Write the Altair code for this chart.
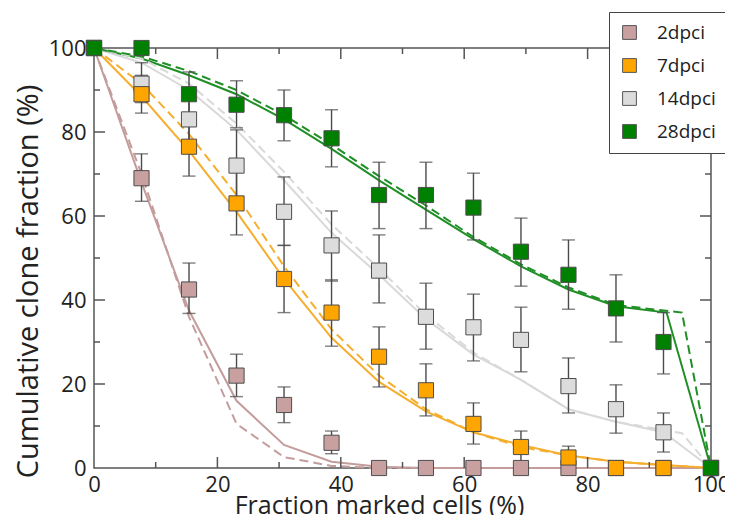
import altair as alt
import pandas as pd

series = ["2dpci", "7dpci", "14dpci", "28dpci"]
marker_colors = ["#C8A0A0", "#FFA500", "#DCDCDC", "#008000"]
line_colors = ["#C49C9C", "#F5AE2E", "#D9D9D9", "#1F8F26"]

x_pos = [0, 7.7, 15.4, 23.1, 30.8, 38.5, 46.2, 53.8, 61.5, 69.2, 76.9, 84.6, 92.3, 100]

pink_y = [100, 69, 42.5, 22, 15, 6, 0, 0, 0, 0, 0, 0, 0, 0]
orange_y = [100, 89, 76.5, 63, 45, 37, 26.5, 18.5, 10.5, 5, 2.5, 0, 0, 0]
gray_y = [100, 91.5, 83, 72, 61, 53, 47, 36, 33.5, 30.5, 19.5, 14, 8.5, 0]
green_y = [100, 100, 89, 86.5, 84, 78.5, 65, 65, 62, 51.5, 46, 38, 30, 0]

N = None
pink_lo = [N, 63.5, 36.8, 17, 10.8, 3.4, N, N, N, N, N, N, N, N]
pink_hi = [N, 74.8, 48.8, 27.1, 19.3, 8.8, N, N, N, N, N, N, N, N]
orange_lo = [N, 84.5, 69.5, 55.5, 37, 29, 19.3, 12.4, 5.7, 1.5, 0, N, N, N]
orange_hi = [N, 93.5, 83.5, 71, 53, 44.8, 33.6, 24.8, 15.5, 8.8, 5.2, N, N, N]
gray_lo = [N, 87, 78, 64, 53, 44.5, 39.3, 28.3, 25.5, 22.9, 13.1, 8.3, 3.8, N]
gray_hi = [N, 96.5, 88.5, 80.5, 69.3, 61.2, 55.5, 44, 41.4, 38.3, 26.2, 19.8, 13.1, N]
green_lo = [N, N, 84, 81, 77.9, 71.7, 57, 57, 54.3, 43.3, 37.8, 30, 22.4, N]
green_hi = [N, N, 94.3, 92.2, 90, 85.3, 72.8, 72.8, 70.2, 59.5, 54.3, 46, 37, N]

# model curves (solid and dashed)
pink_solid_x = [0, 7.7, 15.4, 23.1, 30.8, 38.5, 46.2, 53.8, 100]
pink_solid_y = [100, 68, 37.5, 16, 5.5, 1.5, 0.3, 0, 0]
pink_dash_x = [0, 7.7, 15.4, 23.1, 30.8, 38.5, 46.2, 100]
pink_dash_y = [100, 70, 36, 10.5, 2.6, 0.5, 0, 0]
orange_solid_x = x_pos
orange_solid_y = [100, 88.5, 75.5, 61, 45, 31, 20.5, 13.5, 8.5, 5.5, 3, 1.5, 0.7, 0]
orange_dash_x = x_pos
orange_dash_y = [100, 91.5, 79.5, 65, 48, 33, 22, 14, 8.5, 5, 3, 1.5, 0.7, 0]
gray_solid_x = x_pos
gray_solid_y = [100, 96.5, 90, 80.5, 68.5, 56, 46, 35.5, 27, 21, 14, 11, 8.5, 0]
gray_dash_x = [0, 7.7, 15.4, 23.1, 30.8, 38.5, 46.2, 53.8, 61.5, 69.2, 76.9, 84.6, 95.3, 100]
gray_dash_y = [100, 97.5, 91.5, 82, 70.5, 58, 47.5, 36.5, 27.5, 21, 14, 11, 8.3, 0]
green_solid_x = [0, 7.7, 15.4, 23.1, 30.8, 38.5, 46.2, 53.8, 61.5, 69.2, 76.9, 84.6, 92.8, 100]
green_solid_y = [100, 97.5, 93.5, 89, 83, 76, 68.5, 61.5, 54.5, 48, 42.5, 38.5, 37, 0]
green_dash_x = [0, 7.7, 15.4, 23.1, 30.8, 38.5, 46.2, 53.8, 61.5, 69.2, 76.9, 84.6, 95.3, 100]
green_dash_y = [100, 98, 94.5, 90, 84, 77, 69.5, 62.5, 55, 48.5, 43, 38.8, 37, 0]

major_ticks = [0, 20, 40, 60, 80, 100]
minor_ticks = [10, 30, 50, 70, 90]

W, H = 617, 420
FONT = "Open Sans"

# ---- build tables
pts, errs = [], []
draw_order = {"2dpci": 0, "14dpci": 1, "7dpci": 2, "28dpci": 3}
for s, ys, lo, hi in [("2dpci", pink_y, pink_lo, pink_hi), ("7dpci", orange_y, orange_lo, orange_hi),
                      ("14dpci", gray_y, gray_lo, gray_hi), ("28dpci", green_y, green_lo, green_hi)]:
    for x, y, l, h in zip(x_pos, ys, lo, hi):
        pts.append({"series": s, "x": x, "y": y, "ord": draw_order[s]})
        if l is not None:
            errs.append({"series": s, "x": x, "lo": l, "hi": h})
pts_df = pd.DataFrame(pts).sort_values("ord", kind="stable")
err_df = pd.DataFrame(errs)

lines = []
for s, sx, sy, dx, dy in [("2dpci", pink_solid_x, pink_solid_y, pink_dash_x, pink_dash_y),
                          ("7dpci", orange_solid_x, orange_solid_y, orange_dash_x, orange_dash_y),
                          ("14dpci", gray_solid_x, gray_solid_y, gray_dash_x, gray_dash_y),
                          ("28dpci", green_solid_x, green_solid_y, green_dash_x, green_dash_y)]:
    for i, (x, y) in enumerate(zip(sx, sy)):
        lines.append({"series": s, "kind": "solid", "x": x, "y": y, "i": i})
    for i, (x, y) in enumerate(zip(dx, dy)):
        lines.append({"series": s, "kind": "dash", "x": x, "y": y, "i": i})
lines_df = pd.DataFrame(lines)

xs = alt.Scale(domain=[0, 100], nice=False, zero=False)
ys_ = alt.Scale(domain=[0, 100], nice=False, zero=False)
# reversed order so this (legend-less) scale is not merged with the marker legend
stroke_scale = alt.Scale(domain=series[::-1], range=line_colors[::-1])
color_scale = alt.Scale(domain=series, range=marker_colors)

x_axis = alt.Axis(values=major_ticks, tickSize=0, domain=False, grid=False, labelFontSize=22,
                  labelPadding=6, labelFlush=False, title="Fraction marked cells (%)", titleFontSize=25,
                  titleFontWeight="normal", titleBaseline="alphabetic", titleY=45, titleX=285,
                  labelColor="#222", titleColor="#222")
y_axis = alt.Axis(values=major_ticks, tickSize=0, domain=False, grid=False, labelFontSize=22,
                  labelPadding=8, labelFlush=False, title="Cumulative clone fraction (%)", titleFontSize=29,
                  titleFontWeight="normal", titleBaseline="alphabetic", titleX=-57, titleY=233,
                  labelColor="#222", titleColor="#222")

base_lines = alt.Chart(lines_df)
solid = base_lines.transform_filter(alt.datum.kind == "solid").mark_line(strokeWidth=2).encode(
    x=alt.X("x:Q", scale=xs, axis=x_axis),
    y=alt.Y("y:Q", scale=ys_, axis=y_axis),
    stroke=alt.Stroke("series:N", scale=stroke_scale, legend=None),
    detail="series:N",
    order="i:Q",
)
dashed = base_lines.transform_filter(alt.datum.kind == "dash").mark_line(strokeWidth=2, strokeDash=[9, 5]).encode(
    x=alt.X("x:Q", scale=xs),
    y=alt.Y("y:Q", scale=ys_),
    stroke=alt.Stroke("series:N", scale=stroke_scale, legend=None),
    detail="series:N",
    order="i:Q",
)

bars = alt.Chart(err_df).mark_rule(color="#4a4a4a", strokeWidth=1.4).encode(
    x=alt.X("x:Q", scale=xs), y=alt.Y("lo:Q", scale=ys_), y2="hi:Q"
)
cap_lo = alt.Chart(err_df).mark_tick(color="#4a4a4a", orient="horizontal", size=13, thickness=1.4).encode(
    x=alt.X("x:Q", scale=xs), y=alt.Y("lo:Q", scale=ys_)
)
cap_hi = alt.Chart(err_df).mark_tick(color="#4a4a4a", orient="horizontal", size=13, thickness=1.4).encode(
    x=alt.X("x:Q", scale=xs), y=alt.Y("hi:Q", scale=ys_)
)

squares = alt.Chart(pts_df).mark_square(size=230, opacity=1, filled=True, stroke="#4d4d4d", strokeWidth=1).encode(
    x=alt.X("x:Q", scale=xs),
    y=alt.Y("y:Q", scale=ys_),
    color=alt.Color("series:N", scale=color_scale, title=None,
                    legend=alt.Legend(orient="none", legendX=515, legendY=-36, symbolType="square",
                                      symbolSize=190, symbolStrokeColor="#555", symbolStrokeWidth=1,
                                      labelFontSize=19, labelOffset=18, rowPadding=13, padding=11,
                                      strokeColor="#444", fillColor="white", labelColor="#222")),
)

# inward ticks on all four sides
maj = pd.DataFrame({"v": major_ticks[1:-1]})
mnr = pd.DataFrame({"v": minor_ticks})
tick_layers = []
for df, ln in [(maj, 11), (mnr, 6)]:
    c = alt.Chart(df)
    tick_layers.append(c.mark_rule(color="#555", strokeWidth=1.5).encode(
        x=alt.X("v:Q", scale=xs), y=alt.value(H), y2=alt.value(H - ln)))
    tick_layers.append(c.mark_rule(color="#555", strokeWidth=1.5).encode(
        x=alt.X("v:Q", scale=xs), y=alt.value(0), y2=alt.value(ln)))
    tick_layers.append(c.mark_rule(color="#555", strokeWidth=1.5).encode(
        y=alt.Y("v:Q", scale=ys_), x=alt.value(0), x2=alt.value(ln)))
    tick_layers.append(c.mark_rule(color="#555", strokeWidth=1.5).encode(
        y=alt.Y("v:Q", scale=ys_), x=alt.value(W), x2=alt.value(W - ln)))

chart = alt.layer(solid, dashed, *tick_layers, bars, cap_lo, cap_hi, squares).properties(
    width=W, height=H,
    autosize=alt.AutoSizeParams(type="none"),
    padding={"left": 86, "top": 40, "right": 14, "bottom": 47},
).configure(font=FONT).configure_view(stroke="#555", strokeWidth=1.5)

chart.save("out.html", embed_options={"renderer": "svg", "actions": False})
